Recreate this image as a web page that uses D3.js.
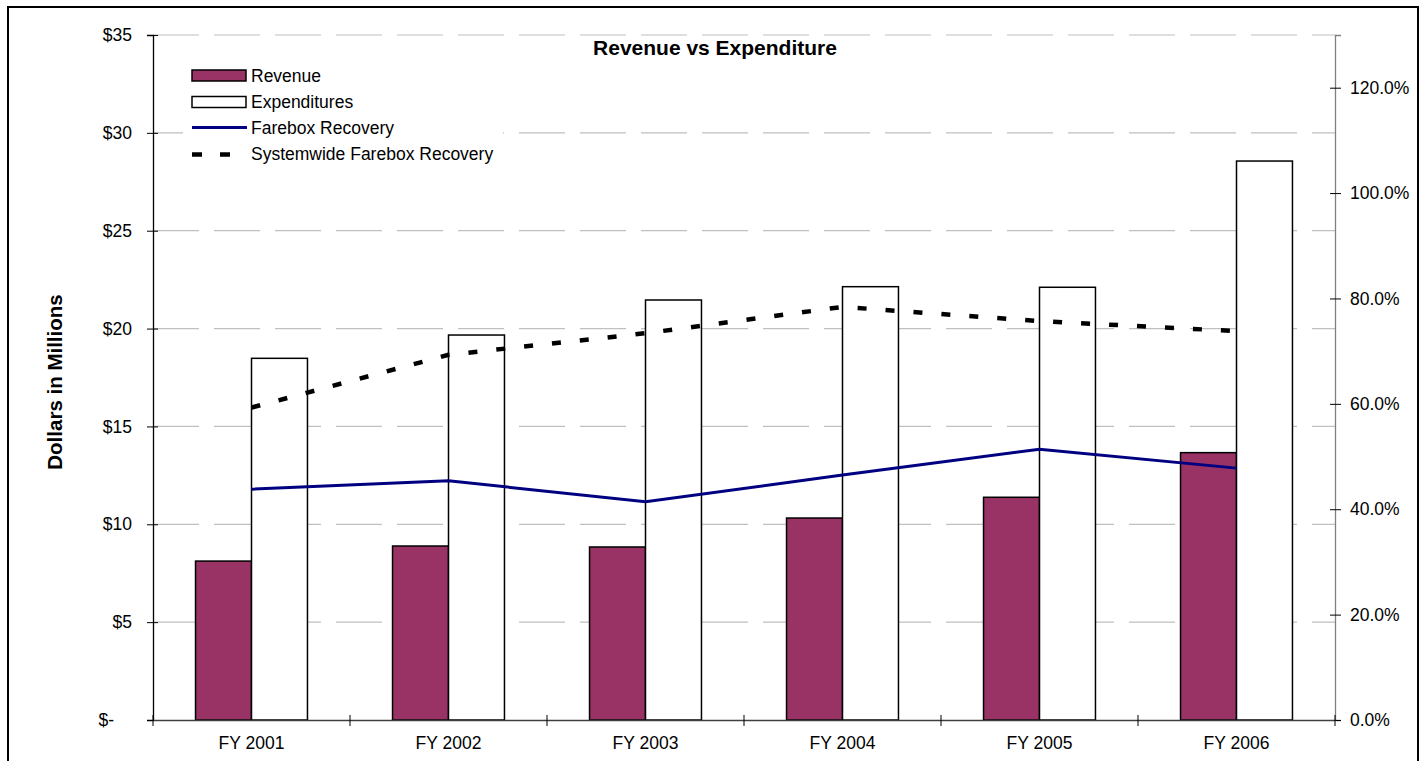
<!DOCTYPE html>
<html><head><meta charset="utf-8">
<script src="https://cdn.jsdelivr.net/npm/d3@7"></script>
<style>body{margin:0;background:#fff}svg{font-family:Arial,"Liberation Sans",sans-serif;display:block}</style>
</head><body><svg id="c" width="1427" height="761"></svg>
<script>
const categories = ["FY 2001","FY 2002","FY 2003","FY 2004","FY 2005","FY 2006"];
const revenue = [8.12, 8.89, 8.84, 10.32, 11.38, 13.66];
const expenditures = [18.48, 19.67, 21.46, 22.14, 22.11, 28.56];
const fareboxRecovery = [0.438, 0.454, 0.414, 0.465, 0.514, 0.478];
const systemwideRecovery = [0.593, 0.693, 0.734, 0.784, 0.757, 0.738];
const leftTicks = [0,5,10,15,20,25,30,35];
const rightTicks = [0,0.2,0.4,0.6,0.8,1.0,1.2];
const seriesNames = ["Revenue","Expenditures","Farebox Recovery","Systemwide Farebox Recovery"];

const svg = d3.select("#c");
const L=153, R=1335, T=35, B=720;
const x = d3.scaleBand().domain(categories).range([L,R]).padding(0);
const xi = d3.scaleBand().domain(["rev","exp"]).range([0,x.bandwidth()]).paddingInner(0).paddingOuter(0.76);
const yL = d3.scaleLinear().domain([0,35]).range([B,T]);
const yR = d3.scaleLinear().domain([0,1.3]).range([B,T]);
const fs = "17.5px", tfs = "17.5px";

// border
svg.append("rect").attr("x",8).attr("y",7).attr("width",1410).attr("height",800)
  .attr("fill","none").attr("stroke","#000").attr("stroke-width",2);

// gridlines
svg.append("g").selectAll("line").data(leftTicks.filter(d=>d>0)).join("line")
  .attr("x1",L).attr("x2",R).attr("y1",d=>yL(d)).attr("y2",d=>yL(d))
  .attr("stroke","#c0c0c0").attr("stroke-width",1.2).attr("stroke-dasharray","46,15");

// bars
const rows = categories.map((c,i)=>({c, rev:revenue[i], exp:expenditures[i]}));
const g = svg.append("g");
g.selectAll("rect.rev").data(rows).join("rect").attr("class","rev")
  .attr("x",d=>x(d.c)+xi("rev")).attr("width",xi.bandwidth())
  .attr("y",d=>yL(d.rev)).attr("height",d=>B-yL(d.rev))
  .attr("fill","#993366").attr("stroke","#000").attr("stroke-width",1.5);
g.selectAll("rect.exp").data(rows).join("rect").attr("class","exp")
  .attr("x",d=>x(d.c)+xi("exp")).attr("width",xi.bandwidth())
  .attr("y",d=>yL(d.exp)).attr("height",d=>B-yL(d.exp))
  .attr("fill","#fff").attr("stroke","#000").attr("stroke-width",1.5);

// axes
const axL = svg.append("g").attr("transform",`translate(${L},0)`)
  .call(d3.axisLeft(yL).tickValues(leftTicks).tickSize(6).tickPadding(15)
    .tickFormat(d=>d===0?"$-":"$"+d));
axL.select(".domain").attr("stroke","#000").attr("stroke-width",1.3);
axL.selectAll(".tick line").attr("x1",5).attr("stroke","#000");
axL.selectAll(".tick text").attr("font-size",tfs).attr("font-family","Arial, Liberation Sans").attr("fill","#000")
  .attr("dx",d=>d===0?-18:0);

const axR = svg.append("g").attr("transform",`translate(${R},0)`)
  .call(d3.axisRight(yR).tickValues(rightTicks).tickSize(6).tickPadding(9)
    .tickFormat(d3.format(".1%")));
axR.select(".domain").attr("stroke","#808080").attr("stroke-width",1.3);
axR.selectAll(".tick line").attr("x1",-5).attr("stroke","#000");
axR.selectAll(".tick text").attr("font-size",tfs).attr("font-family","Arial, Liberation Sans").attr("fill","#000");

const axB = svg.append("g").attr("transform",`translate(0,${B})`)
  .call(d3.axisBottom(x).tickSize(0).tickPadding(17));
axB.select(".domain").attr("stroke","#404040").attr("stroke-width",1.3);
axB.selectAll(".tick text").attr("font-size",fs).attr("font-family","Arial, Liberation Sans").attr("fill","#000");
svg.append("g").selectAll("line").data(categories.concat(["end"])).join("line")
  .attr("x1",(d,i)=>L+i*x.step()).attr("x2",(d,i)=>L+i*x.step())
  .attr("y1",B-5).attr("y2",B+6).attr("stroke","#000");

// lines
const cx = c=>x(c)+x.bandwidth()/2;
const lineR = d3.line().x(d=>cx(d[0])).y(d=>yR(d[1]));
svg.append("path").datum(categories.map((c,i)=>[c,fareboxRecovery[i]]))
  .attr("d",lineR).attr("fill","none").attr("stroke","#000080").attr("stroke-width",3);
svg.append("path").datum(categories.map((c,i)=>[c,systemwideRecovery[i]]))
  .attr("d",lineR).attr("fill","none").attr("stroke","#000").attr("stroke-width",4.5)
  .attr("stroke-dasharray","9,19");

// title
svg.append("text").attr("x",715).attr("y",55).attr("text-anchor","middle")
  .attr("font-size","21px").attr("font-weight","bold").text("Revenue vs Expenditure");

// y label
svg.append("text").attr("transform","translate(62,382) rotate(-90)").attr("text-anchor","middle")
  .attr("font-size","20.5px").attr("font-weight","bold").text("Dollars in Millions");

// legend
const lg = svg.append("g");
lg.append("rect").attr("x",183).attr("y",58).attr("width",320).attr("height",112).attr("fill","#fff");
const ly = [76,102,128,154];
lg.append("rect").attr("x",192).attr("y",70).attr("width",54).attr("height",11)
  .attr("fill","#993366").attr("stroke","#000").attr("stroke-width",1.5);
lg.append("rect").attr("x",192).attr("y",96.5).attr("width",54).attr("height",11)
  .attr("fill","#fff").attr("stroke","#000").attr("stroke-width",1.5);
lg.append("line").attr("x1",192).attr("x2",247).attr("y1",127.5).attr("y2",127.5)
  .attr("stroke","#000080").attr("stroke-width",3);
lg.append("line").attr("x1",192).attr("x2",232).attr("y1",154.5).attr("y2",154.5)
  .attr("stroke","#000").attr("stroke-width",4.5).attr("stroke-dasharray","10,18");
lg.selectAll("text").data(seriesNames).join("text")
  .attr("x",251).attr("y",(d,i)=>ly[i]).attr("dy","0.35em").attr("font-size",fs).text(d=>d);
</script></body></html>
